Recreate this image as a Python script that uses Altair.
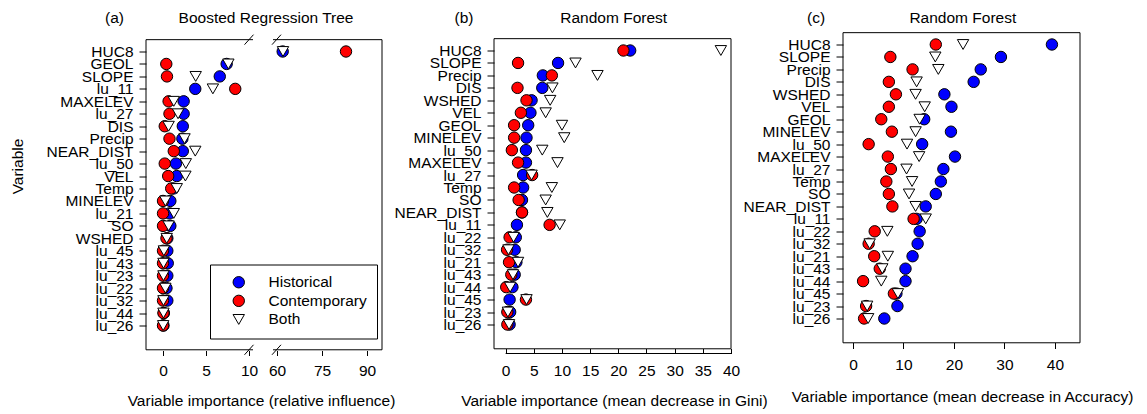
import json
import altair as alt
import pandas as pd

FONT = "Liberation Sans"
FS = 15.5

SERIES = ["Historical", "Contemporary", "Both"]
FILLS = ["#0000ff", "#ff0000", "#ffffff"]
STROKES = ["#000000", "#000000", "#000000"]
SHAPES = ["circle", "circle", "triangle-down"]

# ---- (a) Boosted Regression Tree: relative influence ----
a_vars = ["HUC8", "GEOL", "SLOPE", "lu_11", "MAXELEV", "lu_27", "DIS", "Precip",
          "NEAR_DIST", "lu_50", "VEL", "Temp", "MINELEV", "lu_21", "SO", "WSHED",
          "lu_45", "lu_43", "lu_23", "lu_22", "lu_32", "lu_44", "lu_26"]
a_hist = [61.9, 7.4, 6.6, 3.75, 2.4, 2.4, 2.3, 2.25, 2.3, 1.5, 1.6, 1.2, 0.85, 0.75,
          0.85, 0.5, 0.5, 0.55, 0.5, 0.4, 0.5, 0.1, 0.05]
a_cont = [83.0, 0.38, 0.46, 8.4, 0.65, 0.75, 0.2, 0.75, 1.25, 0.2, 0.6, 0.95, 0.0, 0.0,
          0.0, 0.4, 0.0, 0.0, 0.0, 0.0, 0.0, 0.05, 0.0]
a_both = [62.0, 7.6, 3.8, 5.8, 1.25, 1.75, 0.65, 2.5, 3.75, 2.65, 2.6, 1.6, 0.27, 1.25,
          0.65, 0.43, 0.1, 0.05, 0.05, 0.27, 0.05, 0.05, 0.02]
a_ticks = [0, 5, 10, 60, 75, 90]

# ---- (b) Random Forest: mean decrease in Gini ----
b_vars = ["HUC8", "SLOPE", "Precip", "DIS", "WSHED", "VEL", "GEOL", "MINELEV", "lu_50",
          "MAXELEV", "lu_27", "Temp", "SO", "NEAR_DIST", "lu_11", "lu_22", "lu_32",
          "lu_21", "lu_43", "lu_44", "lu_45", "lu_23", "lu_26"]
b_hist = [22.1, 9.3, 6.6, 6.5, 4.6, 4.4, 4.0, 3.7, 3.6, 3.6, 3.1, 3.1, 2.9, 2.9, 2.0,
          1.8, 1.6, 1.9, 1.6, 1.2, 0.7, 0.8, 0.7]
b_cont = [20.9, 2.2, 8.2, 2.1, 3.7, 2.7, 1.5, 1.5, 1.1, 2.2, 4.7, 1.5, 2.3, 2.9, 7.8,
          0.7, 0.25, 0.6, 1.0, 0.1, 3.6, 0.3, 0.3]
b_both = [38.2, 12.4, 16.3, 8.3, 7.9, 7.1, 10.0, 10.4, 6.5, 9.2, 4.6, 8.2, 7.1, 7.4, 9.6,
          1.4, 0.5, 2.2, 1.3, 0.8, 3.7, 0.4, 0.6]
b_ticks = [0, 5, 10, 15, 20, 25, 30, 35, 40]

# ---- (c) Random Forest: mean decrease in Accuracy ----
c_vars = list(b_vars)
c_hist = [39.4, 29.3, 25.3, 23.9, 18.1, 19.5, 14.1, 19.4, 13.7, 20.2, 17.9, 17.4, 16.4,
          14.4, 12.6, 13.2, 12.8, 11.8, 10.4, 10.4, 8.6, 8.8, 6.2]
c_cont = [16.4, 7.4, 11.8, 7.1, 8.5, 7.1, 5.6, 7.7, 3.1, 6.9, 7.5, 6.6, 7.1, 7.8, 12.0,
          4.3, 3.1, 4.2, 5.3, 2.0, 8.1, 2.6, 2.2]
c_both = [21.8, 16.3, 16.9, 12.6, 12.4, 14.2, 13.2, 12.4, 10.7, 13.1, 10.6, 11.7, 11.1,
          12.4, 14.4, 6.8, 3.3, 6.9, 5.8, 5.6, 8.9, 2.8, 3.0]
c_ticks = [0, 10, 20, 30, 40]

BOX_TOP, BOX_BOT = 23.95, -0.95


def make_df(vars_, hist, cont, both):
    n = len(vars_)
    rows = []
    for z, (s, vals) in enumerate(zip(SERIES, [hist, cont, both])):
        for i, (v, x) in enumerate(zip(vars_, vals)):
            rows.append({"variable": v, "pos": n - i, "value": x, "series": s, "z": z})
    return pd.DataFrame(rows)


def ypx(v, ytop, ybot, n):
    return ybot + (v - 1) * (ytop - ybot) / (n - 1)


one = pd.DataFrame({"k": [0]})


def text(t, x, y):
    return alt.Chart(one).mark_text(
        text=t, font=FONT, fontSize=FS, align="center", baseline="alphabetic", color="black"
    ).encode(x=alt.value(x), y=alt.value(y))


def panel(vars_, hist, cont, both, W, H, ytop, ybot, xscale, xaxis, ytitle, legend,
          tag, tag_x, title, title_x, title_y, extras):
    df = make_df(vars_, hist, cont, both)
    n = len(vars_)
    names_by_pos = list(reversed(vars_))
    yaxis_kw = dict(
        values=list(range(1, n + 1)), tickCount=n + 10,
        labelExpr=json.dumps(names_by_pos) + "[datum.value - 1]",
        tickSize=7, labelPadding=6, labelOverlap=False, labelFlush=False,
        labelBaseline="middle", domain=False,
    )
    if ytitle:
        yaxis_kw.update(title=ytitle, titleX=-124, titleY=132.5, titleAngle=270,
                        titleAlign="center", titleBaseline="alphabetic")
    else:
        yaxis_kw.update(title=None)
    y = alt.Y("pos:Q", scale=alt.Scale(domain=[1, n], range=[ybot, ytop], zero=False, nice=False),
              axis=alt.Axis(**yaxis_kw))
    x = alt.X("value:Q", scale=xscale, axis=xaxis)
    fill_kw = dict(scale=alt.Scale(domain=SERIES, range=FILLS))
    shape_kw = dict(scale=alt.Scale(domain=SERIES, range=SHAPES))
    stroke_kw = dict(scale=alt.Scale(domain=SERIES, range=STROKES))
    for kw in (fill_kw, shape_kw, stroke_kw):
        kw["legend"] = legend
    box = alt.Chart(one).mark_rect(fill="transparent", stroke="black", strokeWidth=1).encode(
        x=alt.value(0), x2=alt.value(W),
        y=alt.Y(datum=BOX_TOP), y2=alt.Y2(datum=BOX_BOT),
    )
    pts = alt.Chart(df).mark_point(filled=True, size=130, strokeWidth=1, opacity=1).encode(
        x=x, y=y,
        fill=alt.Fill("series:N", **fill_kw),
        shape=alt.Shape("series:N", **shape_kw),
        stroke=alt.Stroke("series:N", **stroke_kw),
        order=alt.Order("z:Q"),
    )
    layers = [pts, box] + extras(W, H, ytop, ybot, n) + [
        text(tag, tag_x, title_y), text(title, title_x, title_y)]
    return alt.layer(*layers).properties(width=W, height=H)


def axis_x(values, tick, pad, tx, ty, title):
    return alt.Axis(values=values, tickCount=len(values) + 5, tickSize=tick, labelPadding=pad,
                    labelOverlap=False, labelFlush=False, domain=False, title=title,
                    titleX=tx, titleY=ty, titleAlign="center", titleBaseline="alphabetic")


def extras_a(W, H, ytop, ybot, n):
    out = []
    for v in (BOX_TOP, BOX_BOT):
        yy = ypx(v, ytop, ybot, n)
        out.append(alt.Chart(one).mark_rule(color="white", strokeWidth=3).encode(
            x=alt.value(107), x2=alt.value(127), y=alt.value(yy)))
        for cx in (103, 130.5):
            out.append(alt.Chart(one).mark_rule(color="black", strokeWidth=1).encode(
                x=alt.value(cx - 4.5), x2=alt.value(cx + 4.5),
                y=alt.value(yy + 5), y2=alt.value(yy - 5)))
    return out


def extras_b(W, H, ytop, ybot, n):
    return [alt.Chart(one).mark_rule(color="black", strokeWidth=1).encode(
        x=alt.X(datum=0), x2=alt.X2(datum=40), y=alt.value(H + 5))]


def extras_none(W, H, ytop, ybot, n):
    return []


legend_a = alt.Legend(
    orient="none", legendX=64, legendY=231, title=None, padding=10,
    strokeColor="black", fillColor="white", labelFont=FONT, labelFontSize=FS,
    labelColor="black", symbolSize=130, symbolStrokeColor="black", symbolStrokeWidth=1,
    symbolOffset=11, labelOffset=22, rowPadding=1.6,
)

pa = panel(a_vars, a_hist, a_cont, a_both, 236, 317, 18, 292,
           alt.Scale(domain=[-1.98, 10, 60, 95], range=[0, 103, 131, 236], zero=False, nice=False),
           axis_x(a_ticks, 5, 8, 115, 54.5, "Variable importance (relative influence)"),
           "Variable", legend_a, "(a)", -31.5, "Boosted Regression Tree", 120, -10.5, extras_a)

pb = panel(b_vars, b_hist, b_cont, b_both, 237, 315, 17, 291,
           alt.Scale(domain=[-2.07, 40], zero=False, nice=False),
           axis_x(b_ticks, 5, 10, 120, 57, "Variable importance (mean decrease in Gini)"),
           None, None, "(b)", -30, "Random Forest", 119.7, -10.5, extras_b)

pc = panel(c_vars, c_hist, c_cont, c_both, 237, 309, 11, 285,
           alt.Scale(domain=[-1.98, 44.96], zero=False, nice=False),
           axis_x(c_ticks, 6, 8.5, 119, 58.5, "Variable importance (mean decrease in Accuracy)"),
           None, None, "(c)", -27, "Random Forest", 119.8, -10.5, extras_none)

chart = alt.hconcat(pa, pb, pc, spacing=112, bounds="flush").resolve_scale(
    x="independent", y="independent", fill="independent", shape="independent",
    stroke="independent"
).configure(
    padding={"left": 2, "top": 2.5, "right": 0, "bottom": 0}, font=FONT
).configure_view(stroke=None).configure_axis(
    grid=False, labelFont=FONT, titleFont=FONT, labelFontSize=FS, titleFontSize=FS,
    titleFontWeight="normal", labelColor="black", titleColor="black", tickColor="black",
    tickWidth=1,
)

chart.save("out.html", embed_options={"renderer": "svg", "actions": False})
